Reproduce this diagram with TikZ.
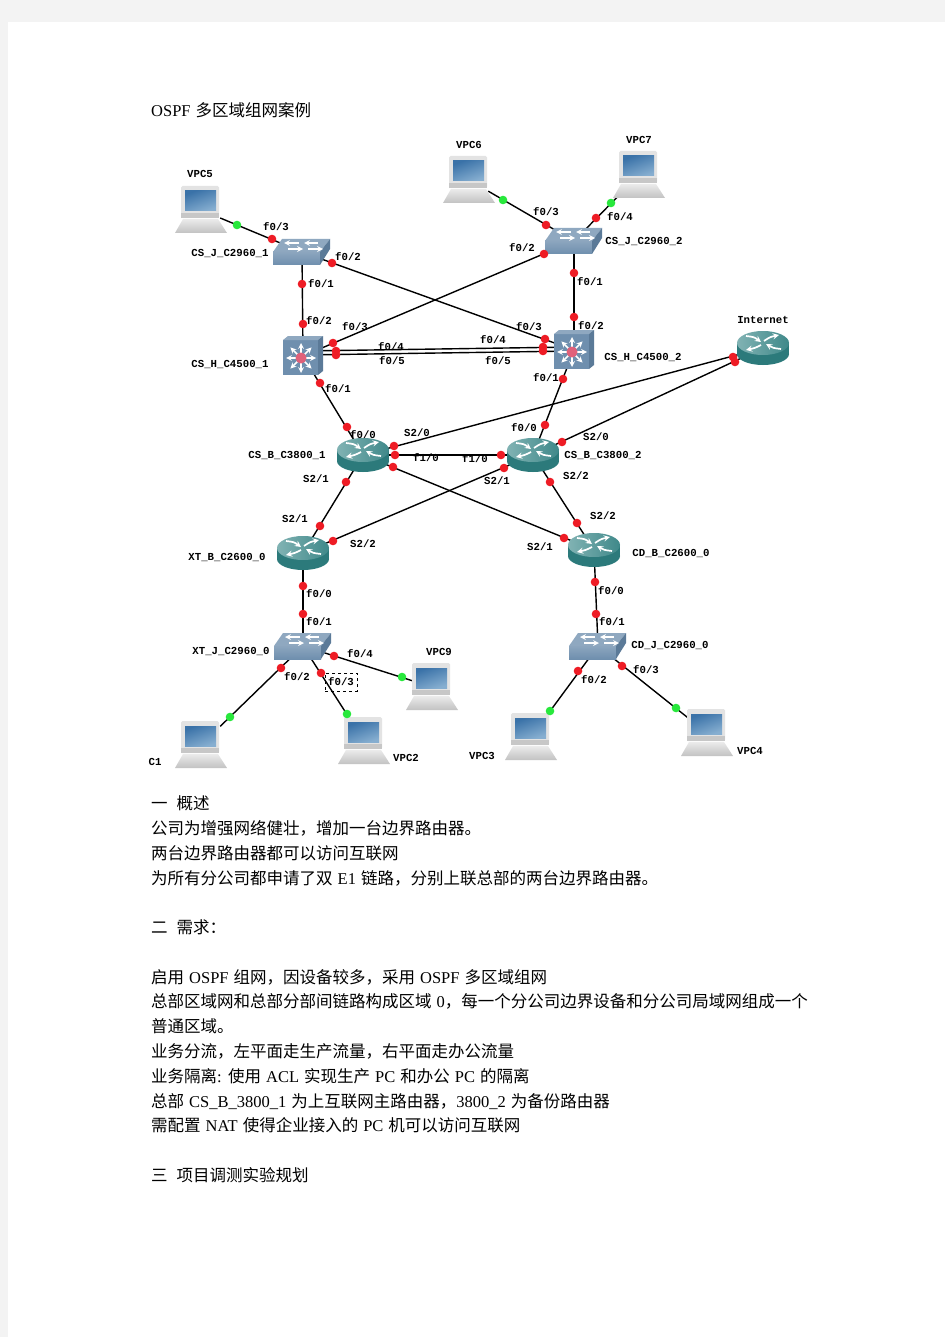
\documentclass[tikz,border=0pt]{standalone}
\usepackage{fontspec}
\setmainfont{Liberation Serif}
\newfontfamily\cjk{Noto Sans CJK SC}
\newfontfamily\gnsfont{Liberation Mono}[BoldFont={* Bold}]
\newcommand{\zh}[1]{{\cjk #1}}
\newcommand{\sep}{\hspace{9pt}}
\newcommand{\bodyfont}{\fontsize{16.5}{20}\selectfont\spaceskip 5pt\relax}
\definecolor{pagegray}{HTML}{F3F3F3}
\definecolor{swblue}{HTML}{6F8FAE}
\definecolor{swtop}{HTML}{8FA8C0}
\definecolor{swside}{HTML}{5B7A98}
\definecolor{rtdark}{HTML}{2C7A7B}
\definecolor{rttop}{HTML}{4B9293}
\definecolor{portred}{HTML}{EE1C25}
\definecolor{portgreen}{HTML}{28E83C}
\definecolor{scrdark}{HTML}{3A72A8}
\definecolor{scrlight}{HTML}{86AED0}
\definecolor{hubdot}{HTML}{E0607A}
\tikzset{
    vpcbox/.style={minimum width=38pt, minimum height=48pt, inner sep=0pt},
    hub/.style={minimum size=0pt, inner sep=0pt},
    link/.style={line width=1.4pt, black},
    reddot/.style={circle, fill=portred, minimum size=8.6pt, inner sep=0pt},
    greendot/.style={circle, fill=portgreen, minimum size=8.6pt, inner sep=0pt},
    gnslabel/.style={font=\gnsfont\bfseries\fontsize{10.7}{12}\selectfont, inner sep=0pt},
    picked/.style={draw, dashed, line width=0.5pt, minimum width=32pt, minimum height=18pt, inner sep=0pt},
    bodyline/.style={anchor=base west, inner sep=0pt, font=\bodyfont},
    pics/vpc/.style={code={
        \shade[top color=black!8, bottom color=black!24] (-18,9) -- (17,9) -- (26,23) -- (-26,23) -- cycle;
        \fill[black!11, rounded corners=1.5pt] (-20,-24) rectangle (18,8);
        \fill[black!22] (-20,3) rectangle (18,8);
        \shade[left color=scrdark, right color=scrlight, shading angle=20] (-16,-19) rectangle (15,1);
    }},
    pics/arrowpad/.style={code={
        \draw[white, line width=1.6pt, -stealth] (-14,-3) -- (1,-3);
        \draw[white, line width=1.6pt, -stealth] (16,-9) -- (2,-9);
        \draw[white, line width=1.6pt, -stealth] (-3,-9) -- (-18,-9);
        \draw[white, line width=1.6pt, -stealth] (6,-3) -- (21,-3);
    }},
    pics/l2switch/.style={code={
        \fill[swtop] (-20,-13) -- (28,-13) -- (18,0) -- (-29,0) -- cycle;
        \shade[top color=swblue!80, bottom color=swblue] (-29,0) rectangle (18,13);
        \fill[swside] (18,0) -- (28,-13) -- (28,-3) -- (18,13) -- cycle;
        \pic {arrowpad};
    }},
    pics/l3switch/.style={code={
        \fill[swblue] (-20,-16) rectangle (15,19);
        \fill[swtop] (-20,-16) -- (-15,-20) -- (20,-20) -- (15,-16) -- cycle;
        \fill[swside] (15,-16) -- (20,-20) -- (20,15) -- (15,19) -- cycle;
        \foreach \ang in {0,45,...,315}
            \draw[white, line width=1.6pt, -stealth] (-2,2) -- ++(\ang:15);
        \fill[hubdot] (-2,2) circle (5.5);
    }},
    pics/router/.style={code={
        \fill[rtdark] (-26,-5) rectangle (26,6);
        \fill[rtdark] (0,6) ellipse (26 and 11);
        \shade[left color=rttop!70!white, right color=rttop!60!rtdark] (0,-5) ellipse (26 and 12);
        \draw[white, line width=1.7pt, -stealth] (-17,-12) .. controls (-9,-11) .. (-2,-6);
        \draw[white, line width=1.7pt, -stealth] (18,1) .. controls (10,0) .. (3,-4);
        \draw[white, line width=1.7pt, -stealth] (1,-7) .. controls (7,-11) .. (16,-13);
        \draw[white, line width=1.7pt, -stealth] (-2,-3) .. controls (-8,0) .. (-17,2);
    }},
}
\begin{document}
\begin{tikzpicture}[x=1pt, y=-1pt]
    \useasboundingbox (0,0) rectangle (945,1337);
    \fill[pagegray] (0,0) rectangle (945,1337);
    \fill[white] (8,22) rectangle (945,1337);

    % hosts
    \foreach \name/\x/\y in {vpc5/201/210, vpc6/469/180, vpc7/639/175, vpc9/432/687, pc1/201/745, vpc2/364/741, vpc3/531/737, vpc4/707/733}
        \node[vpcbox] (\name) at (\x,\y) {};
    % switches and routers
    \node[hub] (j1) at (302,252) {};
    \node[hub] (j2) at (574,241) {};
    \node[hub] (h1) at (303,356) {};
    \node[hub] (h2) at (574,350) {};
    \node[hub] (b1) at (363,455) {};
    \node[hub] (b2) at (533,455) {};
    \node[hub] (inet) at (763,348) {};
    \node[hub] (xtb) at (303,553) {};
    \node[hub] (cdb) at (594,550) {};
    \node[hub] (xtj) at (303,646) {};
    \node[hub] (cdj) at (598,646) {};

    % links
    \foreach \a/\b in {vpc5/j1, vpc6/j2, vpc7/j2, j1/h1, j1/h2, j2/h1, j2/h2, h1/b1, h2/b2, b1/inet, b2/inet, b1/b2, b1/xtb, b1/cdb, b2/xtb, b2/cdb, xtb/xtj, cdb/cdj, xtj/pc1, xtj/vpc2, xtj/vpc9, cdj/vpc3, cdj/vpc4}
        \draw[link] (\a) -- (\b);
    \draw[link] ([yshift=5pt]h1.center) -- ([yshift=3pt]h2.center);
    \draw[link] ([yshift=1pt]h1.center) -- ([yshift=-1pt]h2.center);

    % device icons
    \foreach \name in {vpc5, vpc6, vpc7, vpc9, pc1, vpc2, vpc3, vpc4}
        \pic at (\name) {vpc};
    \foreach \name in {j1, j2, xtj, cdj}
        \pic at (\name) {l2switch};
    \foreach \name in {h1, h2}
        \pic at (\name) {l3switch};
    \foreach \name in {b1, b2, inet, xtb, cdb}
        \pic at (\name) {router};

    % port markers
    \foreach \x/\y [count=\i] in {272/239, 332/263, 302/284, 303/324, 333/343, 336/351, 336/355, 320/383, 347/427, 394/446, 395/455, 393/467, 346/482, 320/526, 333/541, 303/586, 303/614, 334/656, 281/668, 321/673, 546/225, 596/218, 544/254, 574/273, 574/317, 545/339, 543/347, 543/351, 563/379, 545/425, 562/442, 733/357, 735/362, 501/455, 504/468, 550/482, 577/523, 564/538, 595/582, 596/614, 578/671, 622/666}
        \node[reddot] (port\i) at (\x,\y) {};
    \foreach \x/\y [count=\i] in {237/225, 503/200, 611/203, 402/677, 230/717, 347/714, 550/711, 676/708}
        \node[greendot] (host\i) at (\x,\y) {};

    % interface names
    \foreach \x/\y/\txt [count=\i] in {276/227/{f0/3}, 348/257/{f0/2}, 321/284/{f0/1}, 319/321/{f0/2}, 355/327/{f0/3}, 391/347/{f0/4}, 392/361/{f0/5}, 338/389/{f0/1}, 363/435/{f0/0}, 417/433/{S2/0}, 426/458/{f1/0}, 316/479/{S2/1}, 295/519/{S2/1}, 363/544/{S2/2}, 319/594/{f0/0}, 319/622/{f0/1}, 360/654/{f0/4}, 297/677/{f0/2}, 546/212/{f0/3}, 620/217/{f0/4}, 522/248/{f0/2}, 590/282/{f0/1}, 591/326/{f0/2}, 529/327/{f0/3}, 493/340/{f0/4}, 498/361/{f0/5}, 546/378/{f0/1}, 524/428/{f0/0}, 596/437/{S2/0}, 475/459/{f1/0}, 497/481/{S2/1}, 576/476/{S2/2}, 603/516/{S2/2}, 540/547/{S2/1}, 611/591/{f0/0}, 612/622/{f0/1}, 594/680/{f0/2}, 646/670/{f0/3}}
        \node[gnslabel] (ifc\i) at (\x,\y) {\txt};
    \node[gnslabel, picked] (ifcpicked) at (341,682) {f0/3};

    % device names
    \foreach \x/\y/\txt [count=\i] in {200/174/VPC5, 469/145/VPC6, 639/140/VPC7, 439/652/VPC9, 155/762/C1, 406/758/VPC2, 482/756/VPC3, 750/751/VPC4, 230/253/CS\_J\_C2960\_1, 644/241/CS\_J\_C2960\_2, 230/364/CS\_H\_C4500\_1, 643/357/CS\_H\_C4500\_2, 763/320/Internet, 287/455/CS\_B\_C3800\_1, 603/455/CS\_B\_C3800\_2, 227/557/XT\_B\_C2600\_0, 671/553/CD\_B\_C2600\_0, 231/651/XT\_J\_C2960\_0, 670/645/CD\_J\_C2960\_0}
        \node[gnslabel] (dev\i) at (\x,\y) {\txt};

    % the text around the figure
    \node[bodyline] (title) at (151,117) {OSPF \zh{多区域组网案例}};
    \node[bodyline] (h1line) at (151,809) {\zh{一}\sep\zh{概述}};
    \node[bodyline] (l1) at (151,834) {\zh{公司为增强网络健壮，增加一台边界路由器。}};
    \node[bodyline] (l2) at (151,859) {\zh{两台边界路由器都可以访问互联网}};
    \node[bodyline] (l3) at (151,884) {\zh{为所有分公司都申请了双} E1 \zh{链路，分别上联总部的两台边界路由器。}};
    \node[bodyline] (h2line) at (151,933) {\zh{二}\sep\zh{需求：}};
    \node[bodyline] (l4) at (151,983) {\zh{启用} OSPF \zh{组网，因设备较多，采用} OSPF \zh{多区域组网}};
    \node[bodyline] (l5) at (151,1007) {\zh{总部区域网和总部分部间链路构成区域} 0\zh{，每一个分公司边界设备和分公司局域网组成一个}};
    \node[bodyline] (l6) at (151,1032) {\zh{普通区域。}};
    \node[bodyline] (l7) at (151,1057) {\zh{业务分流，左平面走生产流量，右平面走办公流量}};
    \node[bodyline] (l8) at (151,1082) {\zh{业务隔离}: \zh{使用} ACL \zh{实现生产} PC \zh{和办公} PC \zh{的隔离}};
    \node[bodyline] (l9) at (151,1107) {\zh{总部} CS\_B\_3800\_1 \zh{为上互联网主路由器，}3800\_2 \zh{为备份路由器}};
    \node[bodyline] (l10) at (151,1131) {\zh{需配置} NAT \zh{使得企业接入的} PC \zh{机可以访问互联网}};
    \node[bodyline] (h3line) at (151,1181) {\zh{三}\sep\zh{项目调测实验规划}};
\end{tikzpicture}
\end{document}
